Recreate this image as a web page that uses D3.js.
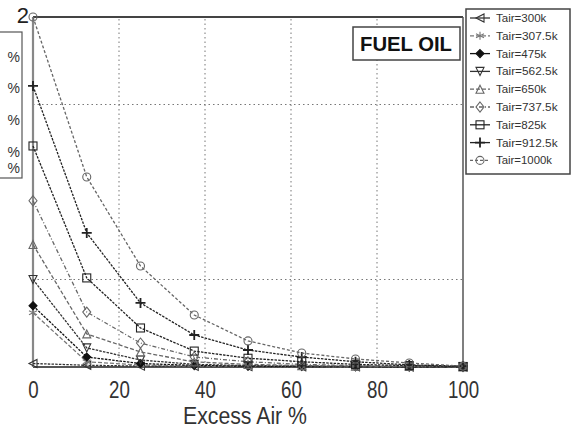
<!DOCTYPE html>
<html>
<head>
<meta charset="utf-8">
<script src="https://cdn.jsdelivr.net/npm/d3@7"></script>
<style>
  html, body { margin: 0; padding: 0; background: #fff; }
  svg { display: block; }
  text { font-family: "Liberation Sans", Arial, sans-serif; }
</style>
</head>
<body>
<svg id="chart" width="572" height="430"></svg>
<script>
// Excess air (%) sampled for every curve
const excessAir = [0, 12.5, 25, 37.5, 50, 62.5, 75, 87.5, 100];

// Legend labels (air temperature)
const seriesNames = ["Tair=300k", "Tair=307.5k", "Tair=475k", "Tair=562.5k", "Tair=650k",
                     "Tair=737.5k", "Tair=825k", "Tair=912.5k", "Tair=1000k"];

// Values per curve, one array per air temperature
const t300   = [0.02, 0.01, 0.005, 0.003, 0.002, 0.001, 0.001, 0.0, 0.0];
const t307   = [0.31, 0.03, 0.011, 0.005, 0.003, 0.002, 0.001, 0.001, 0.0];
const t475   = [0.35, 0.057, 0.02, 0.009, 0.005, 0.003, 0.002, 0.001, 0.0];
const t562   = [0.50, 0.109, 0.04, 0.015, 0.008, 0.005, 0.003, 0.002, 0.001];
const t650   = [0.70, 0.189, 0.086, 0.029, 0.015, 0.008, 0.005, 0.003, 0.001];
const t737   = [0.95, 0.314, 0.137, 0.057, 0.03, 0.015, 0.008, 0.004, 0.002];
const t825   = [1.263, 0.509, 0.223, 0.091, 0.05, 0.03, 0.015, 0.008, 0.003];
const t912   = [1.606, 0.766, 0.366, 0.183, 0.097, 0.057, 0.03, 0.012, 0.005];
const t1000  = [2.0, 1.086, 0.577, 0.297, 0.149, 0.08, 0.046, 0.023, 0.005];
const seriesValues = [t300, t307, t475, t562, t650, t737, t825, t912, t1000];

// Axis ticks
const xTicks = [0, 20, 40, 60, 80, 100];
const yGrid = [0.5, 1.5];
const yTickLabels = [2];

// Marker shape, line dash and tone per curve
const markerKinds = ["triLeft", "star", "diamondFilled", "triDown", "triUp", "diamond", "square", "plus", "circle"];
const dashes = [null, "4,2", null, null, "4,2", "4,2,1,2", null, null, "3,2"];
const tones = ["#333", "#777", "#111", "#333", "#666", "#666", "#222", "#222", "#666"];

const svg = d3.select("#chart");
const x = d3.scaleLinear().domain([0, 100]).range([33, 463]);
const y = d3.scaleLinear().domain([0, 2]).range([367, 17]);

// Partial legend box of a neighbouring panel at the left edge
svg.append("rect").attr("x", -10).attr("y", 32).attr("width", 32).attr("height", 146)
  .attr("fill", "#fff").attr("stroke", "#555").attr("stroke-width", 1.2);
[57, 88, 120, 152, 168].forEach(py => {
  svg.append("text").attr("x", 20).attr("y", py + 5).attr("text-anchor", "end")
    .attr("font-size", 14).attr("fill", "#333").text("%");
});

// Grid
const grid = svg.append("g").attr("stroke", "#777").attr("stroke-width", 1)
  .attr("stroke-dasharray", "1.5,3");
xTicks.slice(1, -1).forEach(v => {
  grid.append("line").attr("x1", x(v)).attr("x2", x(v)).attr("y1", y(0)).attr("y2", y(2));
});
yGrid.forEach(v => {
  grid.append("line").attr("x1", x(0)).attr("x2", x(100)).attr("y1", y(v)).attr("y2", y(v));
});

// Plot frame
svg.append("line").attr("x1", x(0)).attr("x2", x(100)).attr("y1", y(2)).attr("y2", y(2))
  .attr("stroke", "#444").attr("stroke-width", 2);
svg.append("line").attr("x1", x(0)).attr("x2", x(100)).attr("y1", y(0)).attr("y2", y(0))
  .attr("stroke", "#555").attr("stroke-width", 2);
svg.append("line").attr("x1", x(0)).attr("x2", x(0)).attr("y1", y(0)).attr("y2", y(2))
  .attr("stroke", "#888").attr("stroke-width", 2.2);
svg.append("line").attr("x1", x(100)).attr("x2", x(100)).attr("y1", y(0)).attr("y2", y(2))
  .attr("stroke", "#555").attr("stroke-width", 1.5);

// Bottom axis labels
const xAxis = d3.axisBottom(x).tickValues(xTicks).tickSize(0).tickPadding(14);
const gx = svg.append("g").attr("transform", `translate(0,${y(0)})`).call(xAxis);
gx.select(".domain").remove();
gx.selectAll("text").attr("font-size", 24).attr("fill", "#333")
  .attr("font-family", "'Liberation Sans', Arial, sans-serif")
  .each(function() {
    const t = d3.select(this);
    const w = this.getComputedTextLength();
    t.attr("textLength", w * 0.78).attr("lengthAdjust", "spacingAndGlyphs");
  });

svg.append("text").attr("x", 245).attr("y", 424).attr("text-anchor", "middle")
  .attr("font-size", 23).attr("fill", "#333")
  .attr("textLength", 124).attr("lengthAdjust", "spacingAndGlyphs").text("Excess Air %");

// Y tick label at the top of the axis
yTickLabels.forEach(v => {
  svg.append("text").attr("x", 29).attr("y", y(v) + 6).attr("text-anchor", "end")
    .attr("font-size", 22).attr("fill", "#222").text(v);
});

// Marker drawing
function marker(g, kind, cx, cy, color) {
  const s = 4;
  const m = g.append("g").attr("transform", `translate(${cx},${cy})`)
    .attr("stroke", color).attr("stroke-width", 1.1).attr("fill", "none");
  switch (kind) {
    case "circle": m.append("circle").attr("r", s); break;
    case "square": m.append("rect").attr("x", -s).attr("y", -s).attr("width", 2 * s).attr("height", 2 * s); break;
    case "plus":
      m.append("path").attr("d", `M${-s - 1},0H${s + 1}M0,${-s - 1}V${s + 1}`).attr("stroke-width", 1.8); break;
    case "diamond": m.append("path").attr("d", `M0,${-s - 1}L${s},0L0,${s + 1}L${-s},0Z`); break;
    case "diamondFilled":
      m.append("path").attr("d", `M0,${-s}L${s},0L0,${s}L${-s},0Z`).attr("fill", color); break;
    case "triUp": m.append("path").attr("d", `M0,${-s}L${s},${s}L${-s},${s}Z`); break;
    case "triDown": m.append("path").attr("d", `M0,${s}L${s},${-s}L${-s},${-s}Z`); break;
    case "triLeft": m.append("path").attr("d", `M${-s},0L${s},${-s}L${s},${s}Z`); break;
    case "star":
      m.append("path").attr("d", `M0,${-s}V${s}M${-s},${-s / 2}L${s},${s / 2}M${-s},${s / 2}L${s},${-s / 2}`); break;
  }
}

// Curves
const line = d3.line().x((d, i) => x(excessAir[i])).y(d => y(d));
const curves = svg.append("g");
seriesValues.forEach((vals, k) => {
  curves.append("path").datum(vals).attr("d", line).attr("fill", "none")
    .attr("stroke", tones[k]).attr("stroke-width", 1.3)
    .attr("stroke-dasharray", dashes[k] || "2.5,1.2");
  vals.forEach((v, i) => marker(curves, markerKinds[k], x(excessAir[i]), y(v), tones[k]));
});

// Title box
svg.append("rect").attr("x", 353).attr("y", 27).attr("width", 107).attr("height", 33)
  .attr("fill", "#fff").attr("stroke", "#444").attr("stroke-width", 1.5);
svg.append("text").attr("x", 406).attr("y", 51).attr("text-anchor", "middle")
  .attr("font-size", 21).attr("font-weight", "bold").attr("fill", "#111")
  .attr("textLength", 92).attr("lengthAdjust", "spacingAndGlyphs").text("FUEL OIL");

// Legend
const lg = svg.append("g");
lg.append("rect").attr("x", 466).attr("y", 9).attr("width", 104).attr("height", 165)
  .attr("fill", "#fff").attr("stroke", "#444").attr("stroke-width", 1.5);
seriesNames.forEach((name, k) => {
  const ly = 18 + k * 17.8;
  lg.append("line").attr("x1", 470).attr("x2", 490).attr("y1", ly).attr("y2", ly)
    .attr("stroke", tones[k]).attr("stroke-width", 1.3)
    .attr("stroke-dasharray", dashes[k]);
  marker(lg, markerKinds[k], 480, ly, tones[k]);
  lg.append("text").attr("x", 496).attr("y", ly + 4).attr("font-size", 11.5)
    .attr("fill", "#333").text(name)
    .attr("textLength", name.length * 5.6).attr("lengthAdjust", "spacingAndGlyphs");
});
</script>
</body>
</html>
